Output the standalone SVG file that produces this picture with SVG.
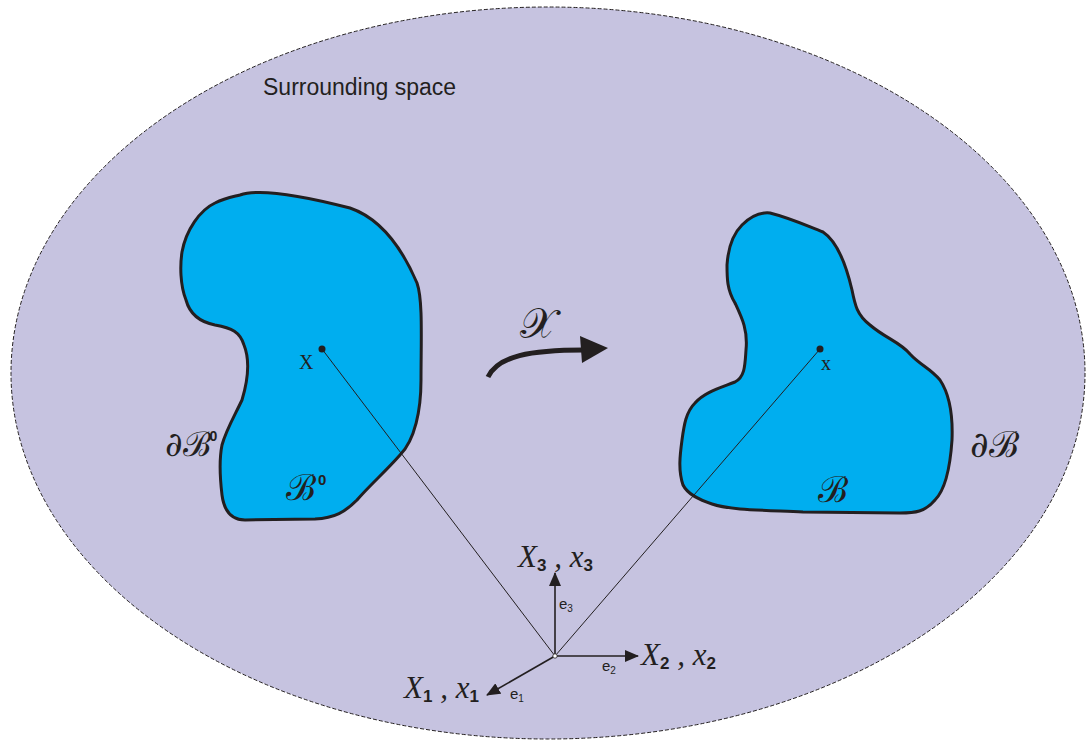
<svg xmlns="http://www.w3.org/2000/svg" width="1086" height="740" viewBox="0 0 1086 740">
<defs>
<style>
.body{fill:#00aeef;stroke:#231f20;stroke-width:3;stroke-linejoin:round}
.thin{stroke:#231f20;stroke-width:1;fill:none}
.ax{stroke:#231f20;stroke-width:1.6;fill:none}
.sc{font-family:"DejaVu Serif","Liberation Serif",serif;font-style:normal;fill:#231f20}
.it{font-family:"Liberation Serif",serif;font-style:italic;fill:#231f20;font-size:31px}
.sub{font-family:"Liberation Sans",sans-serif;font-weight:bold;font-style:normal;font-size:17px}
.sm{font-family:"Liberation Sans",sans-serif;fill:#231f20;font-size:15px}
.smsub{font-size:10px}
.sup{font-family:"Liberation Sans",sans-serif;font-weight:bold;font-style:normal}
</style>
<marker id="ah" markerWidth="14" markerHeight="12" refX="13" refY="6" orient="auto" markerUnits="userSpaceOnUse" viewBox="0 0 14 12">
<path d="M0,0 L14,6 L0,12 Z" fill="#231f20"/>
</marker>
</defs>
<g id="space">
<ellipse cx="548" cy="373" rx="537" ry="366" fill="#c6c3e0" stroke="#231f20" stroke-width="1" stroke-dasharray="4,2"/>
<text x="263" y="95" font-family="Liberation Sans, sans-serif" font-size="23" fill="#231f20">Surrounding space</text>
</g>
<g id="body0">
<path class="body" d="M240,195 C260,188 300,195 350,208 C385,220 405,255 417,283 C423,300 421,340 421,380 C421,410 415,440 400,455 C385,472 370,485 357,500 C345,512 335,518 315,519 L245,520 C230,520 224,510 222,495 C219,470 220,455 222,445 C226,430 235,415 242,400 C248,380 250,360 244,345 C240,332 232,328 215,325 C200,322 190,315 186,300 C180,285 180,265 182,252 C186,230 200,210 215,203 C225,198 232,197 240,195 Z"/>
<text class="sc" x="165" y="456" font-size="34">∂ℬ<tspan class="sup" font-size="14" dx="-1" dy="-15">0</tspan></text>
<text class="sc" x="286" y="500" font-size="36">ℬ<tspan class="sup" font-size="15" dx="2" dy="-15">0</tspan></text>
</g>
<g id="body">
<path class="body" d="M770,213 C790,218 805,225 823,232 C835,240 845,260 852,290 C855,305 857,315 870,325 C885,338 900,342 910,354 C920,365 930,368 940,380 C950,395 953,415 952,440 C950,470 945,490 935,500 C925,512 915,513 900,513 L803,512 C760,510 730,510 712,504 C700,500 688,495 683,485 C678,470 680,455 682,440 C684,425 686,412 695,403 C705,392 720,388 735,382 C745,377 745,365 746,350 C748,330 742,318 735,303 C727,290 727,278 727,265 C728,250 732,235 742,225 C750,217 760,212 770,213 Z"/>
<text class="sc" x="970" y="457" font-size="36">∂ℬ</text>
<text class="sc" x="818" y="502" font-size="36">ℬ</text>
</g>
<g id="points">
<circle cx="322" cy="349" r="3.5" fill="#231f20"/>
<text x="299" y="369" font-family="Liberation Serif, serif" font-size="20" fill="#231f20">X</text>
<circle cx="820" cy="349" r="3.5" fill="#231f20"/>
<text x="821" y="370" font-family="Liberation Serif, serif" font-size="20" fill="#231f20">x</text>
</g>
<g id="connectors">
<line class="thin" x1="555" y1="656" x2="322" y2="349"/>
<line class="thin" x1="555" y1="656" x2="820" y2="349"/>
<line class="ax" x1="555" y1="656" x2="555" y2="573" marker-end="url(#ah)"/>
<line class="ax" x1="555" y1="656" x2="638" y2="656" marker-end="url(#ah)"/>
<line class="ax" x1="555" y1="656" x2="487" y2="695" marker-end="url(#ah)"/>
<circle cx="555" cy="656" r="2.2" fill="#ffffff" stroke="#231f20" stroke-width="0.8"/>
<path d="M488,377 C498,356 530,350 584,350" fill="none" stroke="#231f20" stroke-width="5"/>
<path d="M580,336 L608,348 L582,363 Z" fill="#231f20"/>
</g>
<g id="map-label">
<text class="sc" x="520" y="338" font-size="42" font-style="italic">𝒳</text>
</g>
<g id="axis-labels">
<text class="it" x="518" y="567">X<tspan class="sub" dy="4">3</tspan><tspan dy="-4"> , x</tspan><tspan class="sub" dy="4">3</tspan></text>
<text class="it" x="641" y="665">X<tspan class="sub" dy="4">2</tspan><tspan dy="-4"> , x</tspan><tspan class="sub" dy="4">2</tspan></text>
<text class="it" x="404" y="698">X<tspan class="sub" dy="4">1</tspan><tspan dy="-4"> , x</tspan><tspan class="sub" dy="4">1</tspan></text>
<text class="sm" x="559" y="609">e<tspan class="smsub" dy="3">3</tspan></text>
<text class="sm" x="602" y="671">e<tspan class="smsub" dy="3">2</tspan></text>
<text class="sm" x="510" y="699">e<tspan class="smsub" dy="3">1</tspan></text>
</g>
</svg>
